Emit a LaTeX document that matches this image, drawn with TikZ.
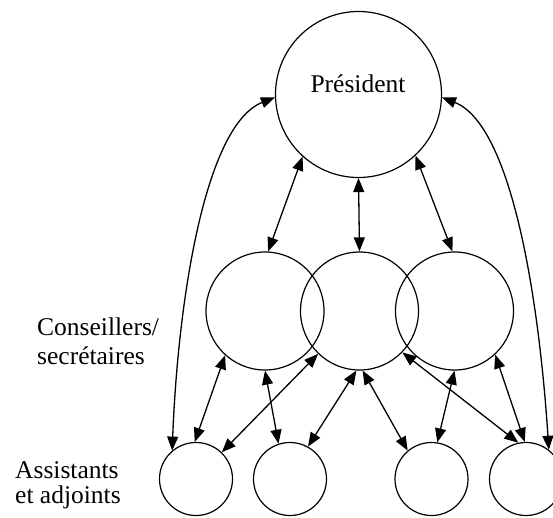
\documentclass[tikz,border=0pt]{standalone}
\usepackage{fontspec}
\setmainfont{Liberation Serif}
\usetikzlibrary{arrows.meta}
\tikzset{
  circ/.style={draw, circle, inner sep=0pt, line width=1.2pt},
  big/.style={circ, minimum size=166pt},
  mid/.style={circ, minimum size=118pt},
  small/.style={circ, minimum size=73pt},
  link/.style={line width=1.3pt, {Triangle[length=14pt,width=11pt]}-{Triangle[length=14pt,width=11pt]}},
  lbl/.style={inner sep=0pt, font=\fontsize{25.5}{30}\selectfont}
}
\begin{document}
\begin{tikzpicture}[x=1pt,y=-1pt]
\useasboundingbox (0,0) rectangle (553,518);
% circles
\node[big] (P) at (358.5,94.5) {};
\node[mid] (M1) at (265,311) {};
\node[mid] (M2) at (359.5,311) {};
\node[mid] (M3) at (454.5,311) {};
\node[small] (B1) at (196,479) {};
\node[small] (B2) at (290,479) {};
\node[small] (B3) at (431.5,479) {};
\node[small] (B4) at (526,479) {};
% texts
\node[lbl, anchor=base] (ptext) at (358,93) {Président};
\node[lbl, anchor=base west] (c1) at (37,335) {Conseillers/};
\node[lbl, anchor=base west] (c2) at (37,364) {secrétaires};
\node[lbl, anchor=base west] (a1) at (15,478) {Assistants};
\node[lbl, anchor=base west] (a2) at (15,503) {et adjoints};
% long arcs
\draw[link] (P.182) .. controls (205,125) and (178,300) .. (B1.130);
\draw[link] (P.358) .. controls (512,125) and (539,300) .. (B4.52);
% president to middle
\draw[link] (P.228) -- (M1.87);
\draw[link] (P.270) -- (M2.90);
\draw[link] (P.313) -- (M3.92);
% middle to bottom
\draw[link] (M1.228) -- (B1.92);
\draw[link] (M2.226) -- (B1.46);
\draw[link] (M1.270) -- (B2.108);
\draw[link] (M2.267) -- (B2.61);
\draw[link] (M2.273) -- (B3.130);
\draw[link] (M2.316) -- (B4.102);
\draw[link] (M3.270) -- (B3.81);
\draw[link] (M3.313) -- (B4.92);
\end{tikzpicture}
\end{document}
